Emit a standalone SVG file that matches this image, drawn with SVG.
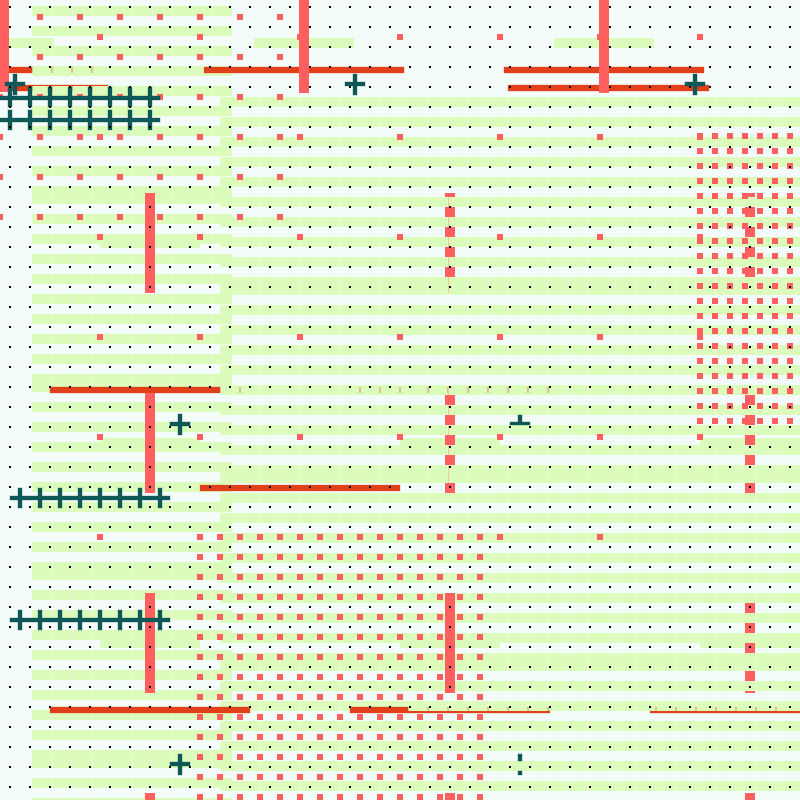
<svg xmlns="http://www.w3.org/2000/svg" width="800" height="800" viewBox="0 0 800 800">
<defs>
<pattern id="st" width="20" height="20" patternUnits="userSpaceOnUse"><rect x="0.3" y="0" width="19.4" height="10" fill="#dcfcbc"/></pattern>
<pattern id="dots" width="20" height="20" patternUnits="userSpaceOnUse"><rect x="9" y="6" width="2" height="2" fill="#000"/></pattern>
<pattern id="sqTL" x="-3" y="14" width="40" height="40" patternUnits="userSpaceOnUse"><rect width="6" height="6" fill="#ff5f5f"/></pattern>
<pattern id="sqBM" x="197" y="534" width="20" height="20" patternUnits="userSpaceOnUse"><rect width="6" height="6" fill="#ff5f5f"/></pattern>
<pattern id="sqR" x="697" y="133" width="15" height="15" patternUnits="userSpaceOnUse"><rect width="6" height="6" fill="#ff5f5f"/></pattern>
<style>
.t{fill:url(#st)}
.ob{fill:#e1401a;stroke:#e1401a;stroke-opacity:.3;stroke-width:1}
.pk{fill:#ff5f5f}
.gx{fill:#dcfcbc}
.cr{fill:#0f5858;stroke:#0f5858;stroke-opacity:.35;stroke-width:1}
.fl{stroke:#f0c896;stroke-width:1;fill:none}
</style>
</defs>
<rect id="background" width="800" height="800" fill="#f4fcf9"/>
<g id="bars-under">
<rect class="ob" x="0" y="67" width="104" height="6"/>
<rect class="ob" x="0" y="85" width="108" height="6"/>
</g>
<g id="stripes-left">
<rect class="t" transform="translate(32,6)" width="200" height="190"/>
<rect class="t" transform="translate(32,194)" width="200" height="190"/>
<rect class="t" transform="translate(32,382)" width="200" height="190"/>
<rect class="t" transform="translate(32,570)" width="200" height="190"/>
<rect class="t" transform="translate(32,758)" width="200" height="50"/>
</g>
<g id="bars-mid">
<rect class="ob" x="204" y="67" width="200" height="6"/>
<rect class="ob" x="504" y="67" width="200" height="6"/>
<rect class="ob" x="508" y="85" width="201" height="6"/>
<rect class="ob" x="50" y="387" width="200" height="6"/>
<rect class="ob" x="350" y="387" width="200" height="6"/>
<rect class="ob" x="200" y="485" width="200" height="6"/>
</g>
<g id="stripes-right">
<rect class="t" transform="translate(220,97)" width="200" height="190"/>
<rect class="t" transform="translate(408,97)" width="200" height="190"/>
<rect class="t" transform="translate(596,97)" width="200" height="190"/>
<rect class="t" transform="translate(784,97)" width="200" height="190"/>
<rect class="t" transform="translate(220,285)" width="200" height="190"/>
<rect class="t" transform="translate(408,285)" width="200" height="190"/>
<rect class="t" transform="translate(596,285)" width="200" height="190"/>
<rect class="t" transform="translate(784,285)" width="200" height="190"/>
<rect class="t" transform="translate(220,473)" width="200" height="190"/>
<rect class="t" transform="translate(408,473)" width="200" height="190"/>
<rect class="t" transform="translate(596,473)" width="200" height="190"/>
<rect class="t" transform="translate(784,473)" width="200" height="190"/>
<rect class="t" transform="translate(220,661)" width="200" height="150"/>
</g>
<g id="bars-low">
<rect class="ob" x="50" y="707" width="200" height="6"/>
<rect class="ob" x="350" y="707" width="200" height="6"/>
<rect class="ob" x="650" y="707" width="160" height="6"/>
</g>
<g id="stripes-right-top">
<rect class="t" transform="translate(408,661)" width="200" height="150"/>
<rect class="t" transform="translate(596,661)" width="200" height="150"/>
<rect class="t" transform="translate(784,661)" width="200" height="150"/>
</g>
<g id="stripes-extra">
<rect class="gx" x="0" y="38" width="54" height="10"/>
<rect class="gx" x="254" y="38" width="100" height="10"/>
<rect class="gx" x="554" y="38" width="100" height="10"/>
<rect class="gx" x="100" y="238" width="100" height="10"/>
<rect class="gx" x="100" y="438" width="100" height="10"/>
<rect class="gx" x="400" y="438" width="100" height="10"/>
<rect class="gx" x="700" y="438" width="100" height="10"/>
<rect class="gx" x="100" y="638" width="100" height="10"/>
<rect class="gx" x="400" y="638" width="100" height="10"/>
<rect class="gx" x="700" y="638" width="100" height="10"/>
</g>
<g id="squares">
<rect x="-3" y="12" width="290" height="210" fill="url(#sqTL)"/>
<rect x="195" y="532" width="290" height="268" fill="url(#sqBM)"/>
<rect x="695" y="131" width="105" height="296" fill="url(#sqR)"/>
<g class="pk">
<rect x="97" y="34" width="6" height="6"/><rect x="197" y="34" width="6" height="6"/><rect x="297" y="34" width="6" height="6"/><rect x="397" y="34" width="6" height="6"/><rect x="497" y="34" width="6" height="6"/><rect x="597" y="34" width="6" height="6"/><rect x="697" y="34" width="6" height="6"/>
<rect x="97" y="134" width="6" height="6"/><rect x="297" y="134" width="6" height="6"/><rect x="397" y="134" width="6" height="6"/><rect x="497" y="134" width="6" height="6"/><rect x="597" y="134" width="6" height="6"/><rect x="697" y="134" width="6" height="6"/>
<rect x="97" y="234" width="6" height="6"/><rect x="197" y="234" width="6" height="6"/><rect x="297" y="234" width="6" height="6"/><rect x="397" y="234" width="6" height="6"/><rect x="497" y="234" width="6" height="6"/><rect x="597" y="234" width="6" height="6"/><rect x="697" y="234" width="6" height="6"/>
<rect x="97" y="334" width="6" height="6"/><rect x="197" y="334" width="6" height="6"/><rect x="297" y="334" width="6" height="6"/><rect x="397" y="334" width="6" height="6"/><rect x="497" y="334" width="6" height="6"/><rect x="597" y="334" width="6" height="6"/><rect x="697" y="334" width="6" height="6"/>
<rect x="97" y="434" width="6" height="6"/><rect x="197" y="434" width="6" height="6"/><rect x="297" y="434" width="6" height="6"/><rect x="397" y="434" width="6" height="6"/><rect x="497" y="434" width="6" height="6"/><rect x="597" y="434" width="6" height="6"/><rect x="697" y="434" width="6" height="6"/>
<rect x="97" y="534" width="6" height="6"/><rect x="497" y="534" width="6" height="6"/><rect x="597" y="534" width="6" height="6"/>
</g>
</g>
<g id="faint-lines">
<line class="fl" x1="448.5" y1="193" x2="448.5" y2="293"/>
<line class="fl" x1="448.5" y1="387" x2="448.5" y2="483"/>
</g>
<g id="pink-bars" class="pk">
<rect x="-1" y="0" width="10" height="92"/>
<rect x="299" y="0" width="10" height="93"/>
<rect x="599" y="0" width="10" height="93"/>
<rect x="145" y="193" width="10" height="100"/>
<rect x="145" y="393" width="10" height="100"/>
<rect x="145" y="593" width="10" height="100"/>
<rect x="145" y="793" width="10" height="7"/>
<rect x="445" y="593" width="10" height="100"/>
<rect x="445" y="793" width="10" height="7"/>
<rect x="745" y="793" width="10" height="7"/>
<rect x="445" y="193" width="10" height="4"/><rect x="445" y="207" width="10" height="10"/><rect x="445" y="227" width="10" height="10"/><rect x="445" y="247" width="10" height="10"/><rect x="445" y="267" width="10" height="10"/>
<rect x="745" y="193" width="10" height="4"/><rect x="745" y="207" width="10" height="10"/><rect x="745" y="227" width="10" height="10"/><rect x="745" y="247" width="10" height="10"/><rect x="745" y="267" width="10" height="10"/>
<rect x="445" y="395" width="10" height="10"/><rect x="445" y="415" width="10" height="10"/><rect x="445" y="435" width="10" height="10"/><rect x="445" y="455" width="10" height="10"/><rect x="445" y="483" width="10" height="10"/>
<rect x="745" y="395" width="10" height="10"/><rect x="745" y="415" width="10" height="10"/><rect x="745" y="435" width="10" height="10"/><rect x="745" y="455" width="10" height="10"/><rect x="745" y="483" width="10" height="10"/>
<rect x="745" y="603" width="10" height="10"/><rect x="745" y="623" width="10" height="10"/><rect x="745" y="643" width="10" height="10"/><rect x="745" y="671" width="10" height="10"/><rect x="745" y="691" width="10" height="2"/>
</g>
<g id="crosses" class="cr">
<rect x="5" y="82" width="20" height="4"/><rect x="13" y="74" width="4" height="21"/>
<rect x="345" y="82" width="20" height="4"/><rect x="353" y="74" width="4" height="21"/>
<rect x="685" y="82" width="20" height="4"/><rect x="693" y="74" width="4" height="21"/>
<rect x="170" y="422" width="20" height="4"/><rect x="178" y="414" width="4" height="21"/>
<rect x="170" y="762" width="20" height="4"/><rect x="178" y="754" width="4" height="21"/>
<rect x="510" y="422" width="20" height="3"/><rect x="518" y="415" width="4" height="9"/>
<rect x="518" y="754" width="4" height="7"/><rect x="518" y="771" width="4" height="4"/>
<rect x="0" y="96" width="160" height="4"/>
<rect x="8" y="87" width="4" height="20"/><rect x="28" y="87" width="4" height="20"/><rect x="48" y="87" width="4" height="20"/><rect x="68" y="87" width="4" height="20"/><rect x="88" y="87" width="4" height="20"/><rect x="108" y="87" width="4" height="20"/><rect x="128" y="87" width="4" height="20"/><rect x="148" y="87" width="4" height="20"/>
<rect x="0" y="118" width="160" height="4"/>
<rect x="8" y="110" width="4" height="20"/><rect x="28" y="110" width="4" height="20"/><rect x="48" y="110" width="4" height="20"/><rect x="68" y="110" width="4" height="20"/><rect x="88" y="110" width="4" height="20"/><rect x="108" y="110" width="4" height="20"/><rect x="128" y="110" width="4" height="20"/><rect x="148" y="110" width="4" height="20"/>
<rect x="10" y="496" width="160" height="4"/>
<rect x="18" y="488" width="4" height="20"/><rect x="38" y="488" width="4" height="20"/><rect x="58" y="488" width="4" height="20"/><rect x="78" y="488" width="4" height="20"/><rect x="98" y="488" width="4" height="20"/><rect x="118" y="488" width="4" height="20"/><rect x="138" y="488" width="4" height="20"/><rect x="158" y="488" width="4" height="20"/>
<rect x="10" y="618" width="160" height="4"/>
<rect x="18" y="610" width="4" height="20"/><rect x="38" y="610" width="4" height="20"/><rect x="58" y="610" width="4" height="20"/><rect x="78" y="610" width="4" height="20"/><rect x="98" y="610" width="4" height="20"/><rect x="118" y="610" width="4" height="20"/><rect x="138" y="610" width="4" height="20"/><rect x="158" y="610" width="4" height="20"/>
</g>
<rect id="dot-grid" width="800" height="800" fill="url(#dots)"/>
</svg>
